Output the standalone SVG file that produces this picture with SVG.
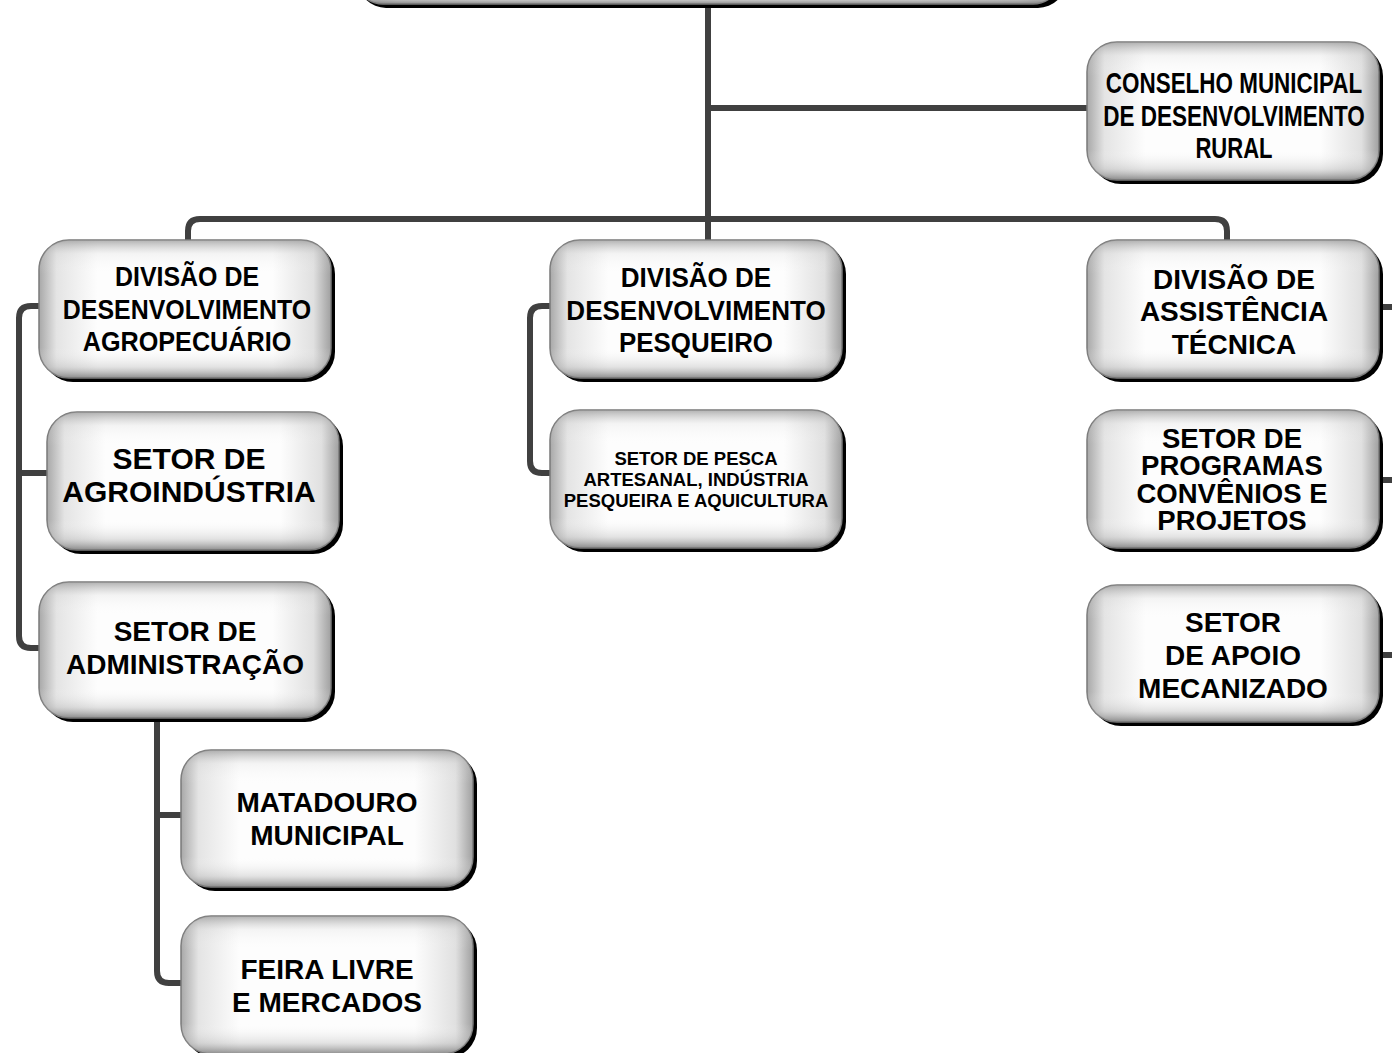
<svg xmlns="http://www.w3.org/2000/svg" width="1392" height="1053" viewBox="0 0 1392 1053">
<defs>
<linearGradient id="gh" x1="0" y1="0" x2="1" y2="0">
<stop offset="0" stop-color="#a8a8a8"/>
<stop offset="0.06" stop-color="#e4e4e4"/>
<stop offset="0.2" stop-color="#fdfdfd"/>
<stop offset="0.8" stop-color="#fdfdfd"/>
<stop offset="0.94" stop-color="#e0e0e0"/>
<stop offset="1" stop-color="#a0a0a0"/>
</linearGradient>
<linearGradient id="gv" x1="0" y1="0" x2="0" y2="1">
<stop offset="0" stop-color="#909090" stop-opacity="0.7"/>
<stop offset="0.1" stop-color="#c0c0c0" stop-opacity="0.15"/>
<stop offset="0.25" stop-color="#ffffff" stop-opacity="0"/>
<stop offset="0.78" stop-color="#ffffff" stop-opacity="0"/>
<stop offset="0.92" stop-color="#b0b0b0" stop-opacity="0.35"/>
<stop offset="1" stop-color="#707070" stop-opacity="0.8"/>
</linearGradient>
</defs>
<style>
.sh{fill:#000}
.bx{fill:url(#gh);stroke:#7a7a7a;stroke-width:1.5}
.ov{fill:url(#gv);stroke:none}
.ln{fill:none;stroke:#404040;stroke-width:6;stroke-linejoin:round}
text{font-family:"Liberation Sans",Arial,sans-serif;font-weight:bold;fill:#000;text-anchor:middle}
.f28{font-size:28px}
.f29{font-size:29px}
.f275{font-size:27.5px}
.f30{font-size:30px}
.f18{font-size:18.5px}
</style>

<g id="connectors">
<path class="ln" d="M708,5 V240"/>
<path class="ln" d="M708,108 H1088"/>
<path class="ln" d="M188,240 V231 Q188,219 200,219 H1215 Q1227,219 1227,231 V240"/>
<path class="ln" d="M40,306 H31 Q19,306 19,318 V636 Q19,648 31,648 H40"/>
<path class="ln" d="M19,473 H48"/>
<path class="ln" d="M551,306 H542 Q530,306 530,318 V461 Q530,473 542,473 H551"/>
<path class="ln" d="M157,718 V971 Q157,983 169,983 H182"/>
<path class="ln" d="M157,815 H182"/>
<path class="ln" d="M1380,307 H1395"/>
<path class="ln" d="M1380,480 H1395"/>
<path class="ln" d="M1380,655 H1395"/>
</g>

<g id="top">
<rect class="sh" x="358" y="-80" width="708" height="88" rx="28"/>
<rect class="bx" x="355" y="-84" width="706" height="88" rx="28"/>
<rect class="ov" x="355" y="-84" width="706" height="88" rx="28"/>
</g>

<g id="conselho">
<rect class="sh" x="1091" y="46" width="292" height="138" rx="30"/>
<rect class="bx" x="1087" y="42" width="292" height="138" rx="30"/>
<rect class="ov" x="1087" y="42" width="292" height="138" rx="30"/>
<text class="f29" transform="translate(1234,93) scale(0.774,1)">CONSELHO MUNICIPAL</text>
<text class="f29" transform="translate(1234,126) scale(0.776,1)">DE DESENVOLVIMENTO</text>
<text class="f29" transform="translate(1234,158) scale(0.76,1)">RURAL</text>
</g>

<g id="div-agro">
<rect class="sh" x="43" y="244" width="292" height="138" rx="30"/>
<rect class="bx" x="39" y="240" width="292" height="138" rx="30"/>
<rect class="ov" x="39" y="240" width="292" height="138" rx="30"/>
<text class="f28" transform="translate(187,286) scale(0.89,1)">DIVISÃO DE</text>
<text class="f28" transform="translate(187,319) scale(0.89,1)">DESENVOLVIMENTO</text>
<text class="f28" transform="translate(187,351) scale(0.9,1)">AGROPECUÁRIO</text>
</g>

<g id="div-pesq">
<rect class="sh" x="554" y="244" width="292" height="138" rx="30"/>
<rect class="bx" x="550" y="240" width="292" height="138" rx="30"/>
<rect class="ov" x="550" y="240" width="292" height="138" rx="30"/>
<text class="f28" transform="translate(696,287) scale(0.93,1)">DIVISÃO DE</text>
<text class="f28" transform="translate(696,320) scale(0.93,1)">DESENVOLVIMENTO</text>
<text class="f28" transform="translate(696,352) scale(0.925,1)">PESQUEIRO</text>
</g>

<g id="div-assist">
<rect class="sh" x="1091" y="244" width="292" height="138" rx="30"/>
<rect class="bx" x="1087" y="240" width="292" height="138" rx="30"/>
<rect class="ov" x="1087" y="240" width="292" height="138" rx="30"/>
<text class="f28" x="1234" y="289">DIVISÃO DE</text>
<text class="f28" x="1234" y="321">ASSISTÊNCIA</text>
<text class="f28" x="1234" y="354">TÉCNICA</text>
</g>

<g id="setor-agroind">
<rect class="sh" x="51" y="416" width="292" height="138" rx="30"/>
<rect class="bx" x="47" y="412" width="292" height="138" rx="30"/>
<rect class="ov" x="47" y="412" width="292" height="138" rx="30"/>
<text class="f30" x="189" y="469">SETOR DE</text>
<text class="f30" x="189" y="502">AGROINDÚSTRIA</text>
</g>

<g id="setor-admin">
<rect class="sh" x="43" y="586" width="292" height="136" rx="30"/>
<rect class="bx" x="39" y="582" width="292" height="136" rx="30"/>
<rect class="ov" x="39" y="582" width="292" height="136" rx="30"/>
<text class="f28" x="185" y="641">SETOR DE</text>
<text class="f28" x="185" y="674">ADMINISTRAÇÃO</text>
</g>

<g id="setor-pesca">
<rect class="sh" x="554" y="414" width="292" height="138" rx="30"/>
<rect class="bx" x="550" y="410" width="292" height="138" rx="30"/>
<rect class="ov" x="550" y="410" width="292" height="138" rx="30"/>
<text class="f18" x="696" y="465">SETOR DE PESCA</text>
<text class="f18" x="696" y="486">ARTESANAL, INDÚSTRIA</text>
<text class="f18" x="696" y="507">PESQUEIRA E AQUICULTURA</text>
</g>

<g id="setor-programas">
<rect class="sh" x="1091" y="414" width="292" height="138" rx="30"/>
<rect class="bx" x="1087" y="410" width="292" height="138" rx="30"/>
<rect class="ov" x="1087" y="410" width="292" height="138" rx="30"/>
<text class="f275" x="1232" y="448">SETOR DE</text>
<text class="f275" x="1232" y="475">PROGRAMAS</text>
<text class="f275" x="1232" y="503">CONVÊNIOS E</text>
<text class="f275" x="1232" y="530">PROJETOS</text>
</g>

<g id="setor-apoio">
<rect class="sh" x="1091" y="589" width="292" height="137" rx="30"/>
<rect class="bx" x="1087" y="585" width="292" height="137" rx="30"/>
<rect class="ov" x="1087" y="585" width="292" height="137" rx="30"/>
<text class="f28" x="1233" y="632">SETOR</text>
<text class="f28" x="1233" y="665">DE APOIO</text>
<text class="f28" x="1233" y="698">MECANIZADO</text>
</g>

<g id="matadouro">
<rect class="sh" x="185" y="754" width="292" height="137" rx="30"/>
<rect class="bx" x="181" y="750" width="292" height="137" rx="30"/>
<rect class="ov" x="181" y="750" width="292" height="137" rx="30"/>
<text class="f28" x="327" y="812">MATADOURO</text>
<text class="f28" x="327" y="845">MUNICIPAL</text>
</g>

<g id="feira">
<rect class="sh" x="185" y="920" width="292" height="138" rx="30"/>
<rect class="bx" x="181" y="916" width="292" height="138" rx="30"/>
<rect class="ov" x="181" y="916" width="292" height="138" rx="30"/>
<text class="f28" x="327" y="979">FEIRA LIVRE</text>
<text class="f28" x="327" y="1012">E MERCADOS</text>
</g>
</svg>
